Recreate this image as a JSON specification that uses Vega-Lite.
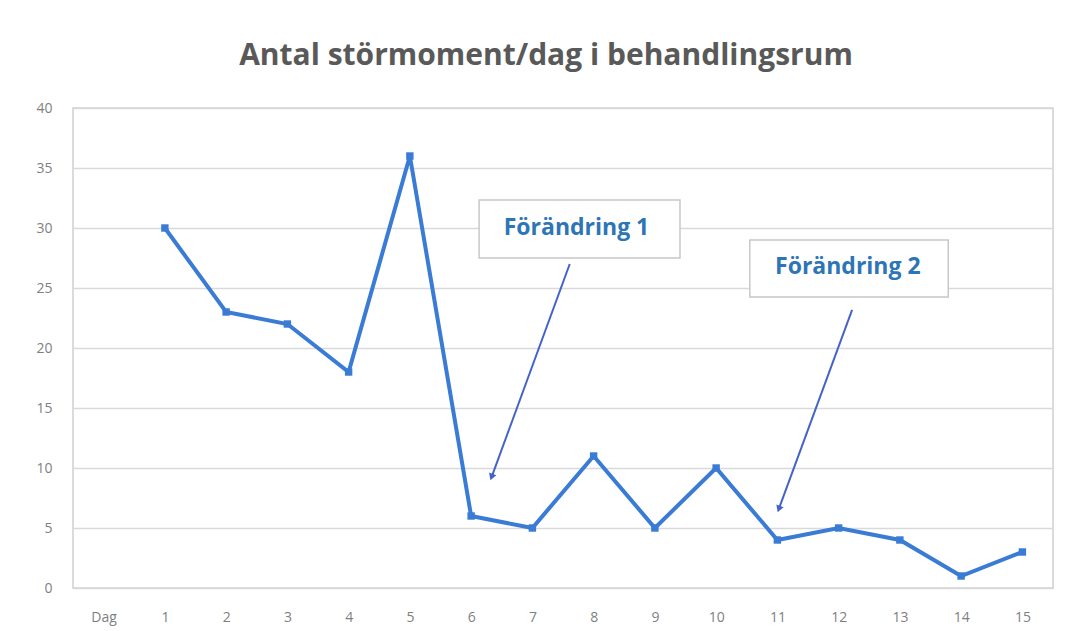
{
  "$schema": "https://vega.github.io/schema/vega-lite/v6.json",
  "width": 980,
  "height": 480,
  "autosize": {"type": "none"},
  "padding": {"left": 73, "top": 108, "right": 18, "bottom": 43},
  "background": "white",
  "title": {
    "text": "Antal störmoment/dag i behandlingsrum",
    "font": "Open Sans",
    "fontSize": 30,
    "fontWeight": "bold",
    "color": "#595959",
    "anchor": "middle",
    "dx": -17,
    "offset": 30
  },
  "config": {
    "view": {"stroke": "#d0d0d0", "strokeWidth": 1.5},
    "axis": {"labelFont": "Open Sans", "labelFontSize": 14, "labelColor": "#7f7f7f"}
  },
  "datasets": {
    "series": [
      {"dag": 1, "antal": 30},
      {"dag": 2, "antal": 23},
      {"dag": 3, "antal": 22},
      {"dag": 4, "antal": 18},
      {"dag": 5, "antal": 36},
      {"dag": 6, "antal": 6},
      {"dag": 7, "antal": 5},
      {"dag": 8, "antal": 11},
      {"dag": 9, "antal": 5},
      {"dag": 10, "antal": 10},
      {"dag": 11, "antal": 4},
      {"dag": 12, "antal": 5},
      {"dag": 13, "antal": 4},
      {"dag": 14, "antal": 1},
      {"dag": 15, "antal": 3}
    ],
    "notes": [
      {"label": "Förändring 1", "tx": 7.72, "ty": 30.0, "bx1": 6.13, "bx2": 9.41, "by1": 32.33, "by2": 27.5, "ax1": 7.61, "ay1": 27.0, "ax2": 6.34, "ay2": 9.33},
      {"label": "Förändring 2", "tx": 12.15, "ty": 26.75, "bx1": 10.55, "bx2": 13.79, "by1": 29.0, "by2": 24.25, "ax1": 12.22, "ay1": 23.17, "ax2": 11.03, "ay2": 6.67}
    ]
  },
  "layer": [
    {
      "data": {"name": "series"},
      "mark": {"type": "line", "color": "#3a7bd5", "strokeWidth": 4, "point": {"shape": "square", "size": 55, "color": "#3a7bd5", "filled": true}},
      "encoding": {
        "x": {
          "field": "dag",
          "type": "quantitative",
          "scale": {"domain": [-0.5, 15.5], "nice": false, "zero": false},
          "axis": {
            "title": null,
            "values": [0, 1, 2, 3, 4, 5, 6, 7, 8, 9, 10, 11, 12, 13, 14, 15],
            "format": "d",
            "labelExpr": "datum.value == 0 ? 'Dag' : datum.label",
            "grid": false,
            "ticks": false,
            "domain": false,
            "labelPadding": 22
          }
        },
        "y": {
          "field": "antal",
          "type": "quantitative",
          "scale": {"domain": [0, 40], "nice": false},
          "axis": {
            "title": null,
            "values": [0, 5, 10, 15, 20, 25, 30, 35, 40],
            "grid": true,
            "gridColor": "#d9d9d9",
            "gridWidth": 1.5,
            "ticks": false,
            "domain": false,
            "labelPadding": 21
          }
        }
      }
    },
    {
      "data": {"name": "notes"},
      "mark": {"type": "rect", "fill": "white", "stroke": "#c8c8c8", "strokeWidth": 1.5},
      "encoding": {
        "x": {"field": "bx1", "type": "quantitative"},
        "x2": {"field": "bx2"},
        "y": {"field": "by1", "type": "quantitative"},
        "y2": {"field": "by2"}
      }
    },
    {
      "data": {"name": "notes"},
      "mark": {"type": "text", "font": "Open Sans", "fontSize": 23, "fontWeight": "bold", "color": "#2e75b6", "align": "center", "baseline": "middle"},
      "encoding": {
        "x": {"field": "tx", "type": "quantitative"},
        "y": {"field": "ty", "type": "quantitative"},
        "text": {"field": "label"}
      }
    },
    {
      "data": {"name": "notes"},
      "mark": {"type": "rule", "color": "#4463c9", "strokeWidth": 2},
      "encoding": {
        "x": {"field": "ax1", "type": "quantitative"},
        "y": {"field": "ay1", "type": "quantitative"},
        "x2": {"field": "ax2"},
        "y2": {"field": "ay2"}
      }
    },
    {
      "data": {"name": "notes"},
      "mark": {"type": "point", "shape": "triangle", "filled": true, "color": "#4463c9", "size": 60, "angle": 200, "opacity": 1},
      "encoding": {
        "x": {"field": "ax2", "type": "quantitative"},
        "y": {"field": "ay2", "type": "quantitative"}
      }
    }
  ]
}
